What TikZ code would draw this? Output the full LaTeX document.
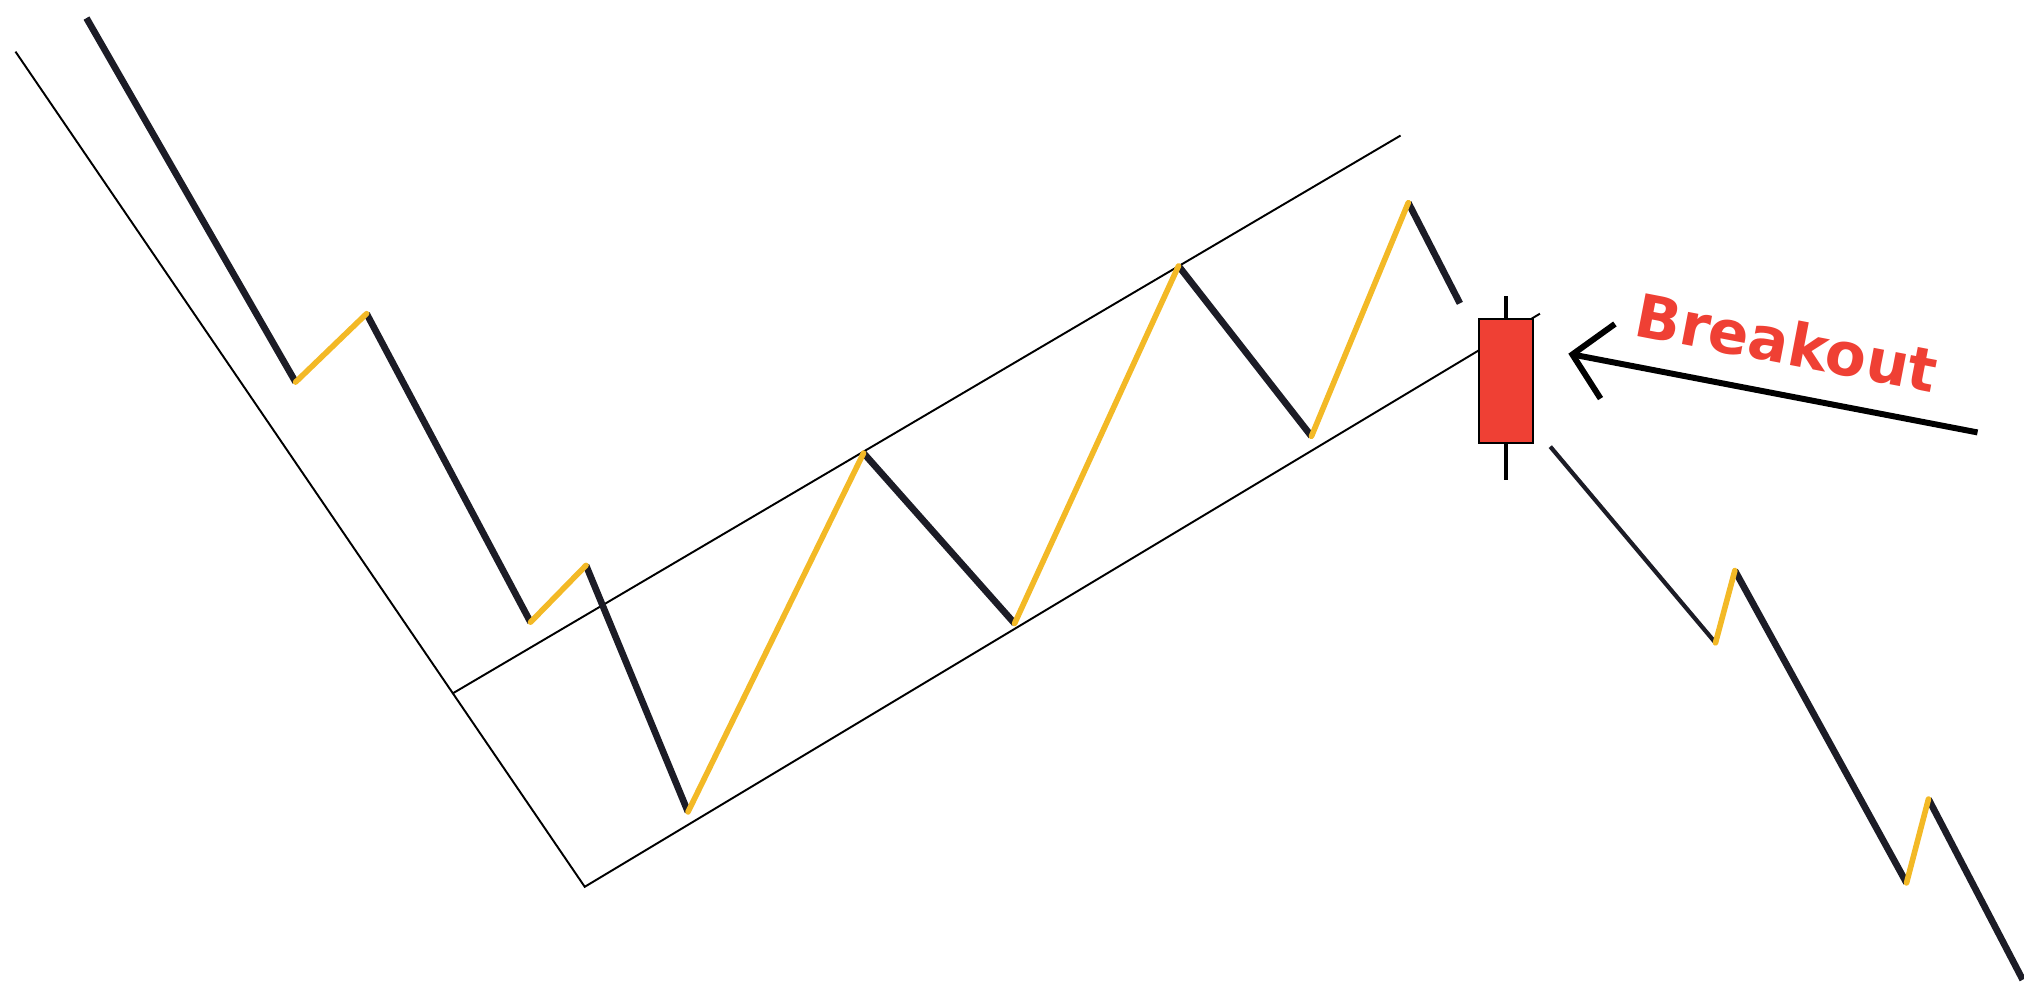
\documentclass[tikz,border=0pt]{standalone}
\usepackage{fontspec}
\newfontfamily\notefont{DejaVu Sans}
\usepackage{xcolor}
\usepackage{tikz}
\usetikzlibrary{arrows.meta}

\definecolor{bear}{RGB}{28,28,38}
\definecolor{bull}{RGB}{243,185,38}
\definecolor{alert}{RGB}{239,64,52}

\begin{document}
\begin{tikzpicture}[
    x=0.012908cm, y=-0.012908cm,
    down/.style={draw=bear, line width=1.9pt},
    up/.style={draw=bull, line width=1.6pt},
    trend/.style={draw=black, line width=0.55pt},
    wick/.style={draw=black, line width=1.2pt},
    candlebox/.style={draw=black, line width=0.6pt, fill=alert, minimum width=0.54cm, minimum height=1.24cm, inner sep=0pt},
    pointer/.style={-{Straight Barb[length=3.6mm, width=7.6mm]}, line width=1.7pt},
    note/.style={font=\notefont\bfseries\fontsize{17pt}{20pt}\selectfont, text=alert, inner sep=0pt}
]
    \useasboundingbox (0,0) rectangle (1568,761);

    % Trend line and channel
    \coordinate (t0) at (12,40);
    \coordinate (t1) at (453,687);
    \coordinate (c0) at (351,537);
    \coordinate (c1) at (1085,105);
    \coordinate (c2) at (1193,243);
    \draw[trend] (t0) -- (t1) -- (c2);
    \draw[trend] (c0) -- (c1);

    % Price swings before the breakout
    \coordinate (p0) at (67,14);
    \coordinate (p1) at (229,296);
    \coordinate (p2) at (284,243);
    \coordinate (p3) at (411,482);
    \coordinate (p4) at (454,438);
    \coordinate (p5) at (533,629);
    \coordinate (p6) at (669,351);
    \coordinate (p7) at (786,483);
    \coordinate (p8) at (913,206);
    \coordinate (p9) at (1016,338);
    \coordinate (p10) at (1091,157);
    \coordinate (p11) at (1131,235);
    \draw[down] (p0) -- (p1);
    \draw[down] (p2) -- (p3);
    \draw[down] (p4) -- (p5);
    \draw[down] (p6) -- (p7);
    \draw[down] (p8) -- (p9);
    \draw[down] (p10) -- (p11);
    \draw[up, line cap=round] (p1) -- (p2);
    \draw[up, line cap=round] (p3) -- (p4);
    \draw[up, line cap=round] (p5) -- (p6);
    \draw[up, line cap=round] (p7) -- (p8);
    \draw[up, line cap=round] (p9) -- (p10);

    % Breakout candle
    \node[candlebox] (candle) at (1167,295) {};
    \coordinate (hi) at (1167,229);
    \coordinate (lo) at (1167,372);
    \draw[wick] (candle.north) -- (hi);
    \draw[wick] (candle.south) -- (lo);

    % Price swings after the breakout
    \coordinate (q0) at (1201,346);
    \coordinate (q1) at (1329,498);
    \coordinate (q2) at (1344,442);
    \coordinate (q3) at (1477,684);
    \coordinate (q4) at (1494,619);
    \coordinate (q5) at (1567,759);
    \draw[draw=bear, line width=1.2pt] (q0) -- (q1);
    \draw[down] (q2) -- (q3);
    \draw[down] (q4) -- (q5);
    \draw[up, line cap=round] (q1) -- (q2);
    \draw[up, line cap=round] (q3) -- (q4);

    % Label and pointer
    \coordinate (tail) at (1532,335);
    \coordinate (tip) at (1215,274);
    \draw[pointer] (tail) -- (tip);
    \node[note, anchor=base, rotate=-10.9] (label) at (1381,282) {Breakout};
\end{tikzpicture}
\end{document}
